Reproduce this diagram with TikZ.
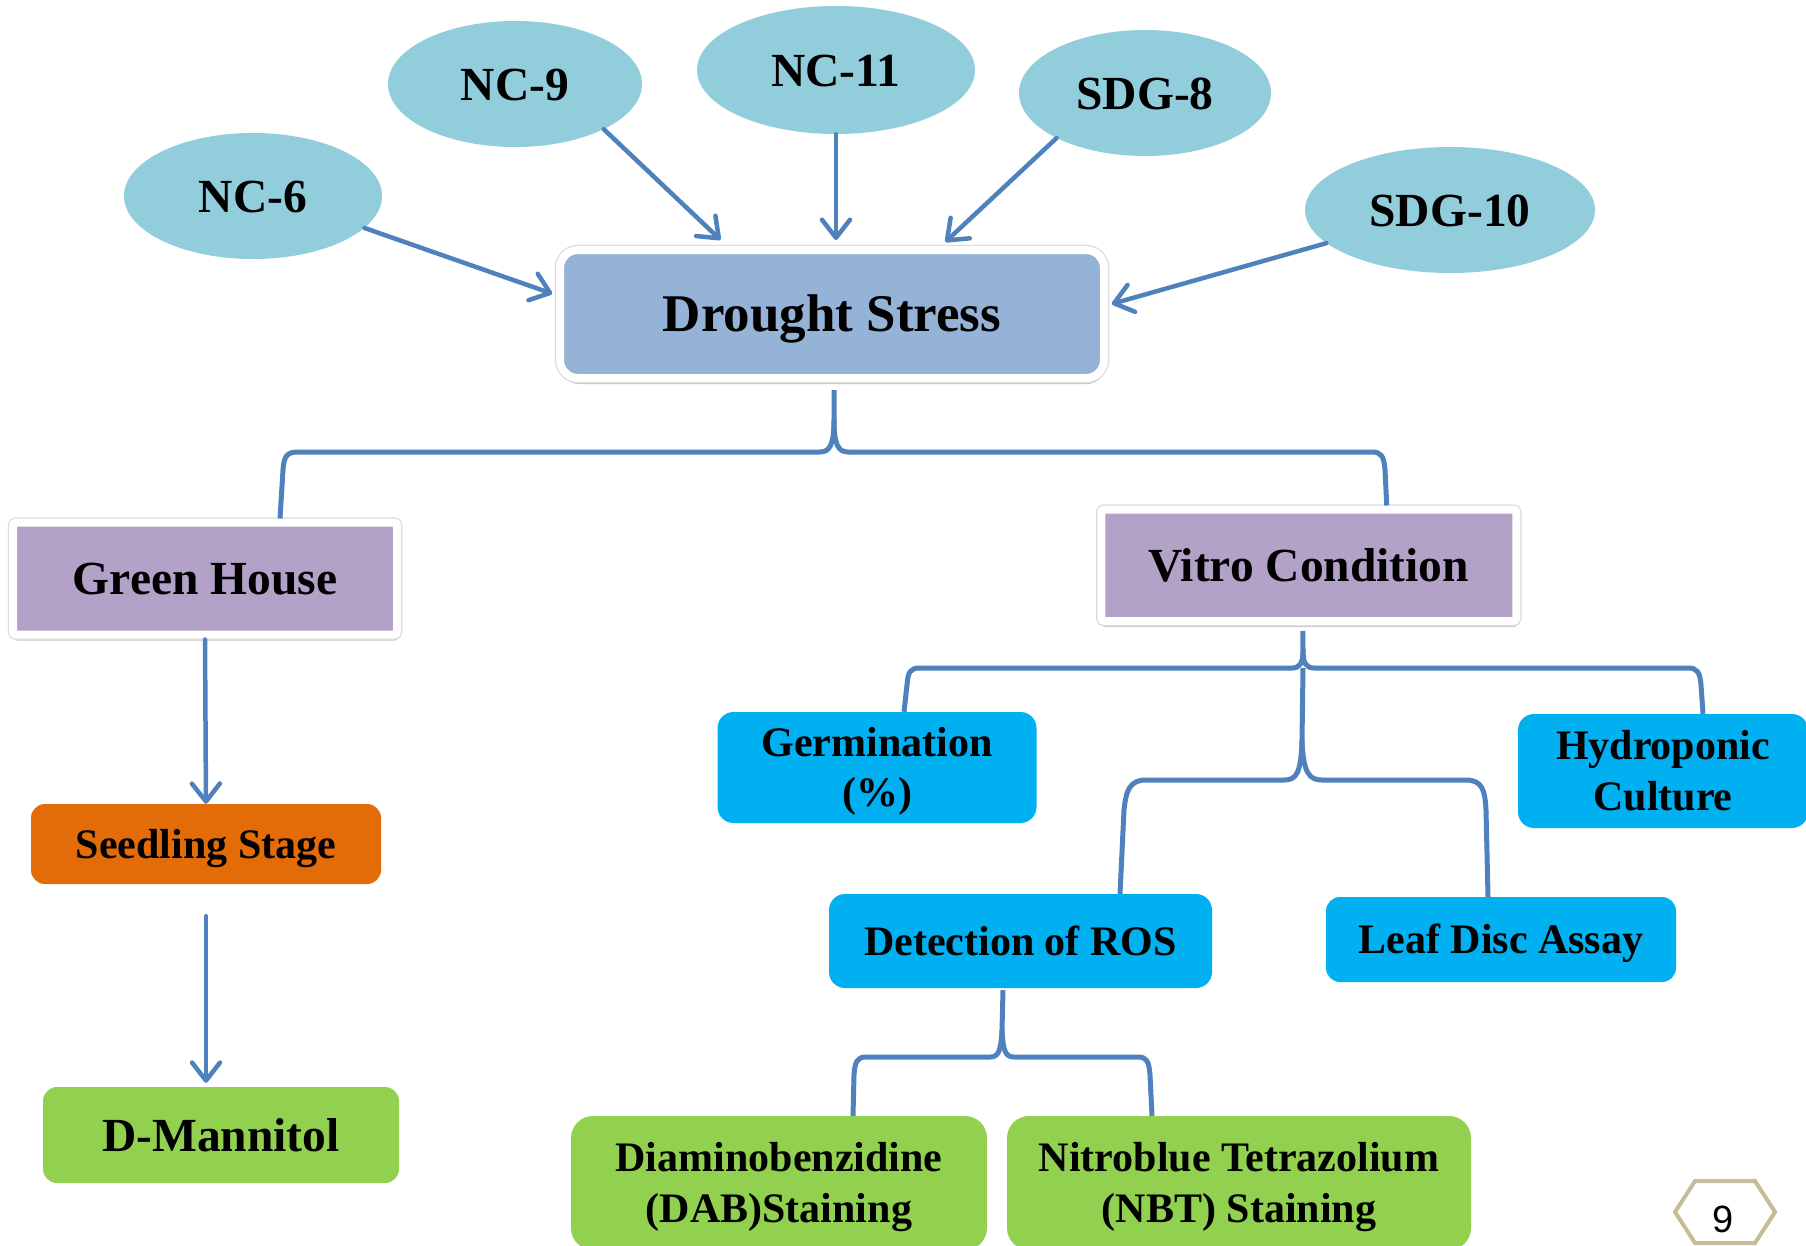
\documentclass[tikz,border=0pt]{standalone}
\usepackage{fontspec}
\setmainfont{Liberation Serif}
\newfontfamily\numfont{Liberation Sans}
\usetikzlibrary{shapes.geometric,arrows.meta,shadows}
\definecolor{ellblue}{HTML}{92CDDC}
\definecolor{dsblue}{HTML}{95B3D7}
\definecolor{lilac}{HTML}{B3A2C7}
\definecolor{orangeb}{HTML}{E36C09}
\definecolor{greenb}{HTML}{92D050}
\definecolor{cyanb}{HTML}{00B0F0}
\definecolor{linkblue}{HTML}{4F81BD}
\definecolor{hexgold}{HTML}{C4BD97}
\newcommand\ppstrut{\vrule width0pt height0.891em depth0.216em\relax}
\newcommand\fTitle{\fontsize{53}{63}\selectfont\bfseries}
\newcommand\fBig{\fontsize{47.5}{56}\selectfont\bfseries}
\newcommand\fSmall{\fontsize{42}{50.5}\selectfont\bfseries}
\begin{document}
\begin{tikzpicture}[x=1pt,y=-1pt,
  ell/.style={ellipse, fill=ellblue, inner sep=0pt, font=\fBig},
  framed/.style={rectangle, draw=white, line width=8pt, inner sep=0pt,
    drop shadow={shadow xshift=1pt, shadow yshift=-6pt, opacity=0.22, fill=black},
    preaction={draw=black!14, line width=10.5pt}},
  pbox/.style={rectangle, inner sep=0pt, font=\fSmall, align=center},
  arr/.style={draw=linkblue, line width=4.5pt, line cap=round, -{Straight Barb[length=18pt,width=28pt,round]}},
  brace/.style={draw=linkblue, line width=5pt}
]
\useasboundingbox (0,0) rectangle (1806,1245);
\fill[white] (0,0) rectangle (1806,1245);

% ellipses
\node[ell, minimum width=258pt, minimum height=126pt] (nc6) at (253,196) {\ppstrut NC-6};
\node[ell, minimum width=254pt, minimum height=126pt] (nc9) at (515,84) {\ppstrut NC-9};
\node[ell, minimum width=278pt, minimum height=128pt] (nc11) at (836,70) {\ppstrut NC-11};
\node[ell, minimum width=252pt, minimum height=126pt] (sdg8) at (1145,93) {\ppstrut SDG-8};
\node[ell, minimum width=290pt, minimum height=126pt] (sdg10) at (1450,210) {\ppstrut SDG-10};

% main boxes
\node[framed, fill=dsblue, rounded corners=18pt, minimum width=544pt, minimum height=128pt, font=\fTitle] (ds) at (832,314) {\ppstrut Drought Stress};
\node[framed, fill=lilac, rounded corners=3pt, minimum width=384pt, minimum height=112pt, font=\fBig] (gh) at (205,578.5) {\ppstrut Green House};
\node[framed, fill=lilac, rounded corners=3pt, minimum width=415pt, minimum height=111.5pt, font=\fBig] (vc) at (1308.75,565.25) {\ppstrut Vitro Condition};

% other boxes
\node[pbox, fill=orangeb, rounded corners=14pt, minimum width=350pt, minimum height=80pt] (ss) at (206,844) {\ppstrut Seedling Stage};
\node[pbox, fill=greenb, rounded corners=14pt, minimum width=356pt, minimum height=96pt, font=\fBig] (dm) at (221,1135) {\ppstrut D-Mannitol};
\node[pbox, fill=cyanb, rounded corners=16pt, minimum width=319pt, minimum height=111pt] (germ) at (877,767.5) {\ppstrut Germination\\\ppstrut(\%)};
\node[pbox, fill=cyanb, rounded corners=16pt, minimum width=290pt, minimum height=114pt] (hyd) at (1663,771) {\ppstrut Hydroponic\\\ppstrut Culture};
\node[pbox, fill=cyanb, rounded corners=16pt, minimum width=383pt, minimum height=94pt] (ros) at (1020.5,941) {\ppstrut Detection of ROS};
\node[pbox, fill=cyanb, rounded corners=14pt, minimum width=350pt, minimum height=85pt] (leaf) at (1501,939.5) {\ppstrut Leaf Disc Assay};
\node[pbox, fill=greenb, rounded corners=22pt, minimum width=416pt, minimum height=134pt] (dab) at (779,1183) {\ppstrut Diaminobenzidine\\\ppstrut(DAB)Staining};
\node[pbox, fill=greenb, rounded corners=22pt, minimum width=464pt, minimum height=134pt] (nbt) at (1239,1183) {\ppstrut Nitroblue Tetrazolium\\\ppstrut(NBT) Staining};

% arrows into Drought Stress
\draw[arr, shorten >=4pt] (nc6.-16) -- ([yshift=19pt]ds.west);
\draw[arr, shorten >=9pt] (nc9.-27) -- ([xshift=-105pt]ds.north);
\draw[arr, shorten >=6pt] (nc11.south) -- (ds.north -| nc11.south);
\draw[arr, shorten >=6pt] (sdg8.207) -- ([xshift=109pt]ds.north);
\draw[arr, shorten >=4pt] (sdg10.195) -- ([yshift=9pt]ds.east);

% green house chain
\draw[arr] ([yshift=-1pt]gh.south) -- (ss.north);
\draw[arr, shorten >=4pt] ([yshift=-32pt]ss.south) -- (ss.south |- dm.north);

% brace A
\draw[brace] ([xshift=75pt]gh.north) -- (283,470) .. controls (284,456) and (287,452) .. (298,452) -- (820,452) .. controls (830,452) and (834,444) .. (834,420) -- ([xshift=2pt,yshift=-8pt]ds.south);
\draw[brace] (834,420) .. controls (834,444) and (838,452) .. (848,452) -- (1372,452) .. controls (1381,452) and (1384,456) .. (1385,470) -- ([xshift=78pt]vc.north);

% brace B
\draw[brace] ([xshift=-6pt,yshift=-6pt]vc.south) -- (1303,650) .. controls (1303,663) and (1300,668) .. (1292,668) -- (920,668) .. controls (910,668) and (908,672) .. (907,685) -- ([xshift=27pt]germ.north);
\draw[brace] (1303,650) .. controls (1303,663) and (1306,668) .. (1314,668) -- (1688,668) .. controls (1697,668) and (1700,672) .. (1701,685) -- ([xshift=40pt]hyd.north);

% brace C
\draw[brace] (1303,668) -- (1302,740) .. controls (1301,774) and (1296,780) .. (1284,780) -- (1146,780) .. controls (1130,780) and (1126,790) .. (1124,810) -- ([xshift=99.5pt]ros.north);
\draw[brace] (1302,740) .. controls (1303,774) and (1310,780) .. (1322,780) -- (1466,780) .. controls (1482,780) and (1485,790) .. (1486,810) -- ([xshift=-13pt]leaf.north);

% brace D
\draw[brace] ([xshift=-17.5pt,yshift=-2pt]ros.south) -- (1002,1030) .. controls (1001,1052) and (998,1057) .. (990,1057) -- (866,1057) .. controls (857,1057) and (855,1062) .. (854,1075) -- ([xshift=74pt]dab.north);
\draw[brace] (1002,1030) .. controls (1003,1052) and (1006,1057) .. (1014,1057) -- (1138,1057) .. controls (1147,1057) and (1149,1062) .. (1150,1075) -- ([xshift=-87pt]nbt.north);

% page number hexagon
\draw[hexgold, line width=4pt, line join=miter] (1675,1212) -- (1695,1181) -- (1755,1181) -- (1775,1212) -- (1755,1243) -- (1695,1243) -- cycle;
\node[inner sep=0pt, font=\numfont\fontsize{38}{40}\selectfont] (pg) at (1723,1219) {9};
\end{tikzpicture}
\end{document}
